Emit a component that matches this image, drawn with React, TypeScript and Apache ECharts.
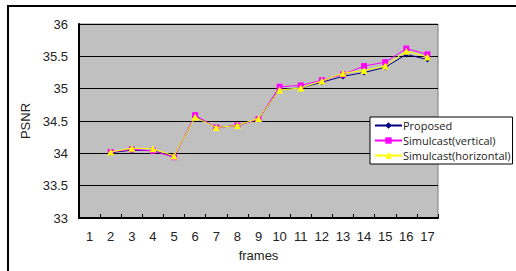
import React, { useEffect, useRef } from "react";
import * as echarts from "echarts";

const frames = ["1", "2", "3", "4", "5", "6", "7", "8", "9", "10", "11", "12", "13", "14", "15", "16", "17"];
const proposed = [null, 34.01, 34.05, 34.04, 33.95, 34.57, 34.40, 34.43, 34.53, 34.99, 35.01, 35.10, 35.19, 35.25, 35.33, 35.53, 35.45];
const simulcastVertical = [null, 34.02, 34.06, 34.04, 33.94, 34.59, 34.40, 34.43, 34.53, 35.03, 35.05, 35.13, 35.22, 35.35, 35.41, 35.62, 35.53];
const simulcastHorizontal = [null, 34.02, 34.08, 34.07, 33.96, 34.56, 34.40, 34.43, 34.54, 34.98, 35.01, 35.12, 35.24, 35.28, 35.35, 35.58, 35.49];

const FONT = "'Liberation Sans', Arial, sans-serif";

export default function App() {
  const ref = useRef<HTMLDivElement>(null);
  useEffect(() => {
    document.body.style.margin = "0";
    const chart = echarts.init(ref.current!, undefined, { renderer: "svg" });
    chart.setOption({
      animation: false,
      backgroundColor: "#ffffff",
      textStyle: { fontFamily: FONT },
      graphic: [
        {
          type: "rect",
          shape: { x: 8, y: 6, width: 700, height: 400 },
          style: { fill: "none", stroke: "#000", lineWidth: 2 },
          silent: true,
          z: 100,
        },
      ],
      grid: {
        left: 79,
        right: 78,
        top: 24,
        bottom: 53,
        show: true,
        backgroundColor: "#c0c0c0",
        borderColor: "#808080",
        borderWidth: 1,
      },
      legend: {
        orient: "vertical",
        left: 370,
        top: 117,
        backgroundColor: "#ffffff",
        borderColor: "#000",
        borderWidth: 1,
        borderRadius: 0,
        padding: [3, 2, 3, 4],
        itemGap: 4,
        itemWidth: 27,
        itemHeight: 8,
        textStyle: { fontFamily: "'Open Sans', Arial, sans-serif", fontSize: 11, color: "#222", padding: [0, 0, 0, -4] },
        z: 50,
        data: ["Proposed", "Simulcast(vertical)", "Simulcast(horizontal)"],
      },
      xAxis: {
        type: "category",
        data: frames,
        boundaryGap: true,
        name: "frames",
        nameLocation: "middle",
        nameGap: 31,
        nameTextStyle: { fontSize: 13, color: "#222", fontFamily: FONT },
        axisLine: { show: true, lineStyle: { color: "#000", width: 2 } },
        axisTick: { show: true, inside: true, length: 4, alignWithLabel: false, lineStyle: { color: "#000" } },
        axisLabel: { fontSize: 13, color: "#222", margin: 12, fontFamily: FONT },
        splitLine: { show: false },
      },
      yAxis: {
        type: "value",
        min: 33,
        max: 36,
        interval: 0.5,
        name: "PSNR",
        nameLocation: "middle",
        nameGap: 45,
        nameRotate: 90,
        nameTextStyle: { fontSize: 13, color: "#222", fontFamily: FONT },
        axisLine: { show: true, lineStyle: { color: "#000", width: 2 } },
        axisTick: { show: false },
        axisLabel: { fontSize: 13, color: "#222", margin: 11, fontFamily: FONT },
        splitLine: { show: true, lineStyle: { color: "#000", width: 1 } },
      },
      series: [
        {
          name: "Proposed",
          type: "line",
          data: proposed,
          color: "#000080",
          symbol: "diamond",
          symbolSize: 6,
          lineStyle: { width: 1, color: "#000080" },
          itemStyle: { color: "#000080" },
          z: 2,
        },
        {
          name: "Simulcast(vertical)",
          type: "line",
          data: simulcastVertical,
          color: "#ff00ff",
          symbol: "rect",
          symbolSize: 6,
          lineStyle: { width: 1, color: "#ff00ff" },
          itemStyle: { color: "#ff00ff" },
          z: 3,
        },
        {
          name: "Simulcast(horizontal)",
          type: "line",
          data: simulcastHorizontal,
          color: "#ffff00",
          symbol: "triangle",
          symbolSize: 7,
          lineStyle: { width: 1, color: "#ffff00" },
          itemStyle: { color: "#ffff00" },
          z: 4,
        },
      ],
    });
    return () => chart.dispose();
  }, []);
  return <div ref={ref} style={{ position: "fixed", left: 0, top: 0, width: 516, height: 271 }} />;
}
